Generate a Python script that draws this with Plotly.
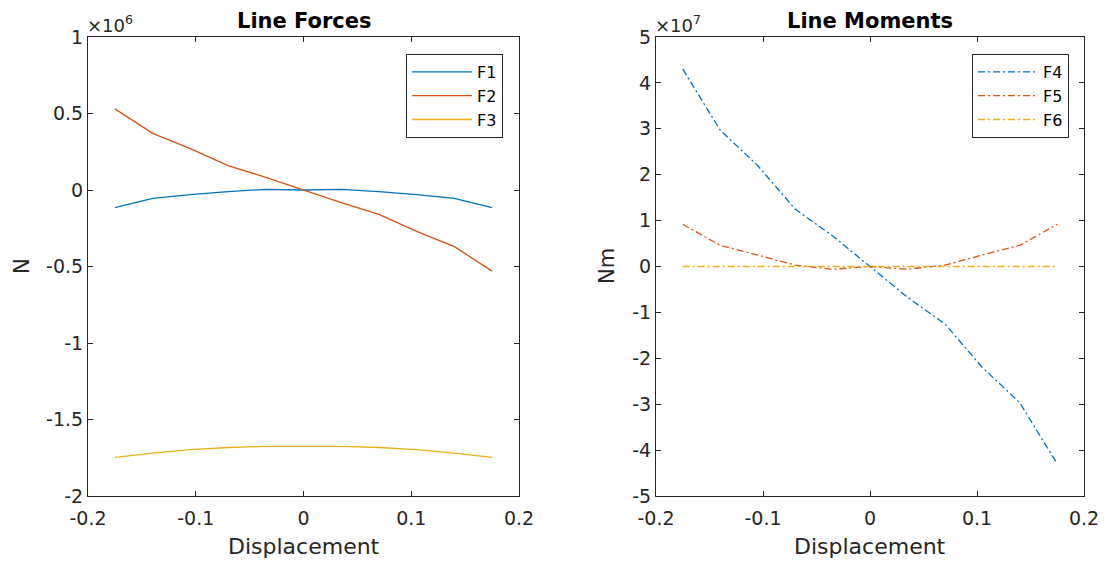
import plotly.graph_objects as go

displacement = [-0.175, -0.14, -0.105, -0.07, -0.035, 0.0, 0.035, 0.07, 0.105, 0.14, 0.175]

# Line forces (N)
F1 = [-0.115e6, -0.055e6, -0.03e6, -0.01e6, 0.004e6, 0.0, 0.004e6, -0.01e6, -0.03e6, -0.055e6, -0.115e6]
F2 = [0.53e6, 0.37e6, 0.27e6, 0.16e6, 0.083e6, 0.0, -0.083e6, -0.16e6, -0.27e6, -0.37e6, -0.53e6]
F3 = [-1.748e6, -1.72e6, -1.697e6, -1.683e6, -1.676e6, -1.674e6, -1.676e6, -1.683e6, -1.697e6, -1.72e6, -1.748e6]

# Line moments (Nm)
F4 = [4.3e7, 2.97e7, 2.2e7, 1.25e7, 0.67e7, 0.0, -0.67e7, -1.25e7, -2.2e7, -2.97e7, -4.3e7]
F5 = [0.92e7, 0.46e7, 0.25e7, 0.03e7, -0.06e7, 0.0, -0.06e7, 0.03e7, 0.25e7, 0.46e7, 0.92e7]
F6 = [0.0] * 11

x_ticks = [-0.2, -0.1, 0, 0.1, 0.2]
x_ticktext = ["-0.2", "-0.1", "0", "0.1", "0.2"]
yl_ticks = [-2e6, -1.5e6, -1e6, -0.5e6, 0, 0.5e6, 1e6]
yl_ticktext = ["-2", "-1.5", "-1", "-0.5", "0", "0.5", "1"]
yr_ticks = [i * 1e7 for i in range(-5, 6)]
yr_ticktext = [str(i) for i in range(-5, 6)]

colors = ["#0072BD", "#D95319", "#EDB120"]
dashdot = "7px,3px,2px,3px"
FONT = "DejaVu Sans"
AX = "#262626"

fig = go.Figure()
for name, y, c in zip(["F1", "F2", "F3"], [F1, F2, F3], colors):
    fig.add_trace(go.Scatter(x=displacement, y=y, mode="lines", name=name,
                             line=dict(color=c, width=1.3), xaxis="x", yaxis="y",
                             legend="legend"))
for name, y, c in zip(["F4", "F5", "F6"], [F4, F5, F6], colors):
    fig.add_trace(go.Scatter(x=displacement, y=y, mode="lines", name=name,
                             line=dict(color=c, width=1.3, dash=dashdot), xaxis="x2", yaxis="y2",
                             legend="legend2"))

W, H = 1107, 565
OFF = 8  # page body margin offset
def fx(px): return (px - OFF) / W
def fy(py): return 1 - (py - OFF) / H

axis_common = dict(showline=True, linecolor=AX, linewidth=1, mirror="ticks", ticks="inside",
                   ticklen=5, tickcolor=AX, showgrid=False, zeroline=False, automargin=False,
                   tickfont=dict(family=FONT, size=19, color=AX))

fig.update_layout(
    width=W, height=H, margin=dict(l=0, r=0, t=0, b=0),
    paper_bgcolor="white", plot_bgcolor="white",
    font=dict(family=FONT, color=AX),
    xaxis=dict(domain=[fx(88), fx(519)], range=[-0.2, 0.2], tickvals=x_ticks, ticktext=x_ticktext,
               anchor="y", ticklabelstandoff=5, **axis_common),
    yaxis=dict(domain=[fy(496), fy(37)], range=[-2e6, 1e6], tickvals=yl_ticks, ticktext=yl_ticktext,
               anchor="x", **axis_common),
    xaxis2=dict(domain=[fx(656), fx(1084)], range=[-0.2, 0.2], tickvals=x_ticks, ticktext=x_ticktext,
                anchor="y2", ticklabelstandoff=5, **axis_common),
    yaxis2=dict(domain=[fy(496), fy(37)], range=[-5e7, 5e7], tickvals=yr_ticks, ticktext=yr_ticktext,
                anchor="x2", **axis_common),
    legend=dict(x=fx(503), y=fy(54), xanchor="right", yanchor="top", bgcolor="white",
                bordercolor=AX, borderwidth=1, font=dict(family=FONT, size=16, color="black"),
                itemwidth=60, tracegroupgap=0),
    legend2=dict(x=fx(1069), y=fy(54), xanchor="right", yanchor="top", bgcolor="white",
                 bordercolor=AX, borderwidth=1, font=dict(family=FONT, size=16, color="black"),
                 itemwidth=60, tracegroupgap=0),
    showlegend=True,
)

def ann(text, x, y, size, bold=False, angle=0, xanchor="center", yanchor="middle", color=AX):
    fig.add_annotation(text=(f"<b>{text}</b>" if bold else text), x=fx(x), y=fy(y),
                       xref="paper", yref="paper", xanchor=xanchor, yanchor=yanchor,
                       showarrow=False, textangle=angle, borderpad=0,
                       font=dict(family=FONT, size=size, color=color))

ann("Line Forces", 304, 8, 21, bold=True, yanchor="top", color="black")
ann("Line Moments", 870, 8, 21, bold=True, yanchor="top", color="black")
ann("×10<sup>6</sup>", 86, 24, 18, xanchor="left")
ann("×10<sup>7</sup>", 654, 24, 18, xanchor="left")
ann("Displacement", 304, 546, 22)
ann("Displacement", 870, 546, 22)
ann("N", 22, 266, 21, angle=-90)
ann("Nm", 607, 266, 21, angle=-90)

fig.write_html("out.html")
